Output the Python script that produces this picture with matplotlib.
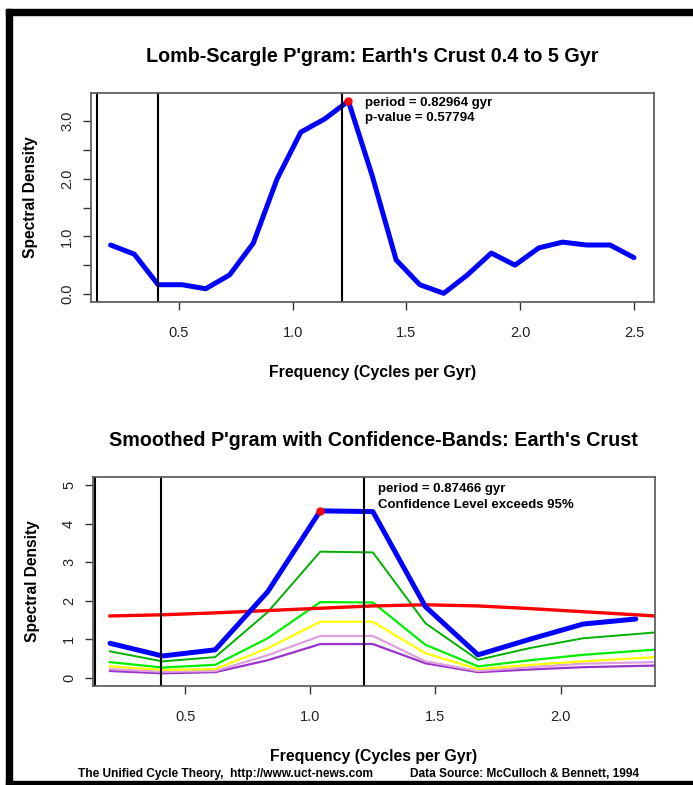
import numpy as np
import matplotlib.pyplot as plt
from matplotlib.patches import Rectangle

plt.rcParams['font.family'] = ['Liberation Sans', 'DejaVu Sans']

## данные: периодограмма Ломба-Скаргла
freq1 = [0.2, 0.3045, 0.409, 0.514, 0.618, 0.723, 0.827, 0.932, 1.036, 1.141, 1.245, 1.350,
         1.455, 1.559, 1.664, 1.768, 1.873, 1.977, 2.082, 2.186, 2.291, 2.395, 2.5]
dens1 = [0.85, 0.69, 0.16, 0.16, 0.09, 0.33, 0.88, 2.00, 2.81, 3.04, 3.35, 2.05,
         0.59, 0.16, 0.01, 0.33, 0.71, 0.50, 0.80, 0.90, 0.85, 0.85, 0.63]
vlines1 = [0.14, 0.408, 1.215]
peak1 = (1.245, 3.35)

## сглаженная периодограмма и доверительные полосы
freq2 = [0.2, 0.41, 0.62, 0.83, 1.04, 1.25, 1.46, 1.67, 1.88, 2.09, 2.30]
dens2 = [0.89, 0.56, 0.72, 2.23, 4.33, 4.31, 1.84, 0.59, 1.00, 1.39, 1.52]
freq_b = [0.2, 0.41, 0.62, 0.83, 1.04, 1.25, 1.46, 1.67, 1.88, 2.09, 2.30, 2.51]
red_b = [1.60, 1.63, 1.68, 1.74, 1.80, 1.86, 1.89, 1.86, 1.79, 1.71, 1.63, 1.55]
dgreen_b = [0.68, 0.42, 0.53, 1.70, 3.27, 3.25, 1.41, 0.46, 0.77, 1.02, 1.13, 1.24]
green_b = [0.40, 0.26, 0.33, 1.02, 1.96, 1.95, 0.85, 0.29, 0.45, 0.59, 0.69, 0.78]
yellow_b = [0.29, 0.20, 0.22, 0.76, 1.45, 1.45, 0.63, 0.22, 0.33, 0.42, 0.50, 0.58]
pink_b = [0.22, 0.15, 0.17, 0.58, 1.08, 1.08, 0.42, 0.17, 0.27, 0.36, 0.39, 0.42]
purple_b = [0.17, 0.11, 0.14, 0.45, 0.87, 0.87, 0.37, 0.14, 0.21, 0.27, 0.30, 0.33]
vlines2 = [0.14, 0.404, 1.213]
peak2 = (1.04, 4.33)

fig = plt.figure(figsize=(6.93, 7.85), dpi=100)

# рамка картинки
for (x0, y0, w, h) in [(6/693, 0, 6/693, 1 - 9/785), (6/693, 1 - 15/785, 1, 6/785), (6/693, 0, 1, 4/785)]:
    fig.add_artist(Rectangle((x0, y0), w, h, transform=fig.transFigure, color='black', zorder=10))

def style_axes(ax):
    for s in ax.spines.values():
        s.set_color('#555555')
        s.set_linewidth(1.2)
    ax.tick_params(axis='both', length=6, width=1, color='#333333', labelsize=10.5,
                   labelcolor='#222222', pad=6)
    ax.tick_params(axis='x', pad=11)
    ax.set_xlabel("Frequency (Cycles per Gyr)", fontsize=11.4, fontweight='bold', labelpad=18)
    ax.set_ylabel("Spectral Density", fontsize=11.2, fontweight='bold', labelpad=16)
    for lab in ax.get_yticklabels():
        lab.set_rotation(90)
        lab.set_va('center')

## верхний график
ax1 = fig.add_axes([0.1313, 0.6153, 0.8124, 0.2662])
ax1.plot(freq1, dens1, color='#0000FF', lw=3.6, solid_joinstyle='round', solid_capstyle='round')
for v in vlines1:
    ax1.axvline(v, color='black', lw=1.5)
ax1.plot(*peak1, 'o', color='red', ms=5, zorder=5)
ax1.set_xlim(0.114, 2.588)
ax1.set_ylim(-0.14, 3.49)
ax1.set_xticks([0.5, 1.0, 1.5, 2.0, 2.5])
ax1.set_xticklabels(['0.5', '1.0', '1.5', '2.0', '2.5'])
ax1.set_yticks([0, 0.5, 1.0, 1.5, 2.0, 2.5, 3.0])
ax1.set_yticklabels(['0.0', '', '1.0', '', '2.0', '', '3.0'])
style_axes(ax1)
ax1.set_title("Lomb-Scargle P'gram: Earth's Crust 0.4 to 5 Gyr", fontsize=14.2, fontweight='bold', pad=22)
ax1.text(1.32, 3.18, "period = 0.82964 gyr\np-value = 0.57794", fontsize=9.5, fontweight='bold',
         va='center', ha='left', linespacing=1.35)

## нижний график
ax2 = fig.add_axes([0.1338, 0.1261, 0.8114, 0.2663])
ax2.plot(freq_b, purple_b, color='#9933CC', lw=1.6)
ax2.plot(freq_b, pink_b, color='#DDA0DD', lw=1.6)
ax2.plot(freq_b, yellow_b, color='#FFFF00', lw=1.6)
ax2.plot(freq_b, green_b, color='#00EE00', lw=1.6)
ax2.plot(freq_b, dgreen_b, color='#00B000', lw=1.4)
ax2.plot(freq_b, red_b, color='#FF0000', lw=2.4)
ax2.plot(freq2, dens2, color='#0000FF', lw=3.6, solid_joinstyle='round', solid_capstyle='round')
for v in vlines2:
    ax2.axvline(v, color='black', lw=1.5)
ax2.plot(*peak2, 'o', color='red', ms=5, zorder=5)
ax2.set_xlim(0.131, 2.377)
ax2.set_ylim(-0.22, 5.21)
ax2.set_xticks([0.5, 1.0, 1.5, 2.0])
ax2.set_xticklabels(['0.5', '1.0', '1.5', '2.0'])
ax2.set_yticks([0, 1, 2, 3, 4, 5])
style_axes(ax2)
ax2.set_title("Smoothed P'gram with Confidence-Bands: Earth's Crust", fontsize=14.2, fontweight='bold', pad=22)
ax2.text(1.272, 4.69, "period = 0.87466 gyr\nConfidence Level exceeds 95%", fontsize=9.5, fontweight='bold',
         va='center', ha='left', linespacing=1.35)

fig.text(78/693, 1 - 774/785, "The Unified Cycle Theory,  http://www.uct-news.com", fontsize=8.6,
         fontweight='bold', va='center', ha='left')
fig.text(410/693, 1 - 774/785, "Data Source: McCulloch & Bennett, 1994", fontsize=8.6,
         fontweight='bold', va='center', ha='left')

fig.savefig('out.png', dpi=100)
